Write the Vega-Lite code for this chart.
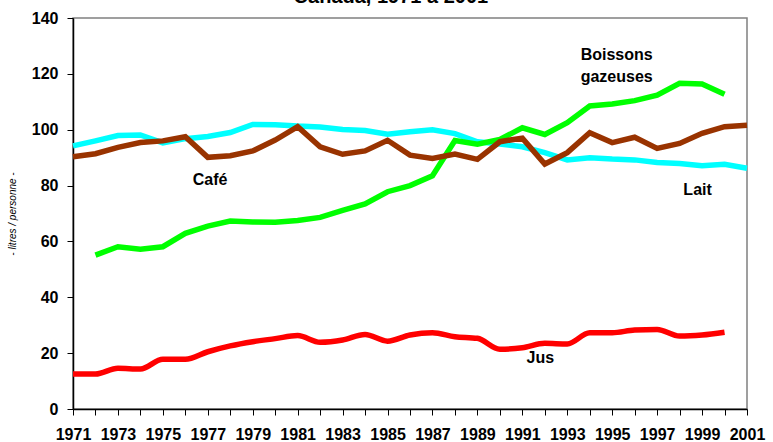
{
  "$schema": "https://vega.github.io/schema/vega-lite/v6.json",
  "width": 674,
  "height": 391,
  "autosize": "none",
  "padding": {"left": 73, "top": 18, "right": 26, "bottom": 33},
  "background": "white",
  "config": {
    "view": {"stroke": "#808080", "strokeWidth": 1.5},
    "font": "Liberation Sans"
  },
  "datasets": {
    "series": [
      {"serie": "Lait", "annee": 1971, "valeur": 94.2},
      {"serie": "Lait", "annee": 1972, "valeur": 96.0},
      {"serie": "Lait", "annee": 1973, "valeur": 97.9},
      {"serie": "Lait", "annee": 1974, "valeur": 98.1},
      {"serie": "Lait", "annee": 1975, "valeur": 95.3},
      {"serie": "Lait", "annee": 1976, "valeur": 96.8},
      {"serie": "Lait", "annee": 1977, "valeur": 97.6},
      {"serie": "Lait", "annee": 1978, "valeur": 99.0},
      {"serie": "Lait", "annee": 1979, "valeur": 101.9},
      {"serie": "Lait", "annee": 1980, "valeur": 101.8},
      {"serie": "Lait", "annee": 1981, "valeur": 101.3},
      {"serie": "Lait", "annee": 1982, "valeur": 101.0},
      {"serie": "Lait", "annee": 1983, "valeur": 100.1},
      {"serie": "Lait", "annee": 1984, "valeur": 99.7},
      {"serie": "Lait", "annee": 1985, "valeur": 98.4},
      {"serie": "Lait", "annee": 1986, "valeur": 99.3},
      {"serie": "Lait", "annee": 1987, "valeur": 100.0},
      {"serie": "Lait", "annee": 1988, "valeur": 98.6},
      {"serie": "Lait", "annee": 1989, "valeur": 95.7},
      {"serie": "Lait", "annee": 1990, "valeur": 94.9},
      {"serie": "Lait", "annee": 1991, "valeur": 93.9},
      {"serie": "Lait", "annee": 1992, "valeur": 91.8},
      {"serie": "Lait", "annee": 1993, "valeur": 89.2},
      {"serie": "Lait", "annee": 1994, "valeur": 90.0},
      {"serie": "Lait", "annee": 1995, "valeur": 89.5},
      {"serie": "Lait", "annee": 1996, "valeur": 89.2},
      {"serie": "Lait", "annee": 1997, "valeur": 88.3},
      {"serie": "Lait", "annee": 1998, "valeur": 87.9},
      {"serie": "Lait", "annee": 1999, "valeur": 87.1},
      {"serie": "Lait", "annee": 2000, "valeur": 87.6},
      {"serie": "Lait", "annee": 2001, "valeur": 86.2},
      {"serie": "Boissons gazeuses", "annee": 1972, "valeur": 55.1},
      {"serie": "Boissons gazeuses", "annee": 1973, "valeur": 58.1},
      {"serie": "Boissons gazeuses", "annee": 1974, "valeur": 57.2},
      {"serie": "Boissons gazeuses", "annee": 1975, "valeur": 58.1},
      {"serie": "Boissons gazeuses", "annee": 1976, "valeur": 62.9},
      {"serie": "Boissons gazeuses", "annee": 1977, "valeur": 65.5},
      {"serie": "Boissons gazeuses", "annee": 1978, "valeur": 67.3},
      {"serie": "Boissons gazeuses", "annee": 1979, "valeur": 67.0},
      {"serie": "Boissons gazeuses", "annee": 1980, "valeur": 66.9},
      {"serie": "Boissons gazeuses", "annee": 1981, "valeur": 67.5},
      {"serie": "Boissons gazeuses", "annee": 1982, "valeur": 68.6},
      {"serie": "Boissons gazeuses", "annee": 1983, "valeur": 71.1},
      {"serie": "Boissons gazeuses", "annee": 1984, "valeur": 73.4},
      {"serie": "Boissons gazeuses", "annee": 1985, "valeur": 77.8},
      {"serie": "Boissons gazeuses", "annee": 1986, "valeur": 80.0},
      {"serie": "Boissons gazeuses", "annee": 1987, "valeur": 83.5},
      {"serie": "Boissons gazeuses", "annee": 1988, "valeur": 96.1},
      {"serie": "Boissons gazeuses", "annee": 1989, "valeur": 94.8},
      {"serie": "Boissons gazeuses", "annee": 1990, "valeur": 96.5},
      {"serie": "Boissons gazeuses", "annee": 1991, "valeur": 100.7},
      {"serie": "Boissons gazeuses", "annee": 1992, "valeur": 98.3},
      {"serie": "Boissons gazeuses", "annee": 1993, "valeur": 102.5},
      {"serie": "Boissons gazeuses", "annee": 1994, "valeur": 108.5},
      {"serie": "Boissons gazeuses", "annee": 1995, "valeur": 109.2},
      {"serie": "Boissons gazeuses", "annee": 1996, "valeur": 110.4},
      {"serie": "Boissons gazeuses", "annee": 1997, "valeur": 112.4},
      {"serie": "Boissons gazeuses", "annee": 1998, "valeur": 116.6},
      {"serie": "Boissons gazeuses", "annee": 1999, "valeur": 116.4},
      {"serie": "Boissons gazeuses", "annee": 2000, "valeur": 112.7},
      {"serie": "Café", "annee": 1971, "valeur": 90.3},
      {"serie": "Café", "annee": 1972, "valeur": 91.4},
      {"serie": "Café", "annee": 1973, "valeur": 93.7},
      {"serie": "Café", "annee": 1974, "valeur": 95.4},
      {"serie": "Café", "annee": 1975, "valeur": 96.0},
      {"serie": "Café", "annee": 1976, "valeur": 97.5},
      {"serie": "Café", "annee": 1977, "valeur": 90.1},
      {"serie": "Café", "annee": 1978, "valeur": 90.7},
      {"serie": "Café", "annee": 1979, "valeur": 92.4},
      {"serie": "Café", "annee": 1980, "valeur": 96.3},
      {"serie": "Café", "annee": 1981, "valeur": 101.1},
      {"serie": "Café", "annee": 1982, "valeur": 93.9},
      {"serie": "Café", "annee": 1983, "valeur": 91.2},
      {"serie": "Café", "annee": 1984, "valeur": 92.4},
      {"serie": "Café", "annee": 1985, "valeur": 96.2},
      {"serie": "Café", "annee": 1986, "valeur": 90.9},
      {"serie": "Café", "annee": 1987, "valeur": 89.7},
      {"serie": "Café", "annee": 1988, "valeur": 91.3},
      {"serie": "Café", "annee": 1989, "valeur": 89.4},
      {"serie": "Café", "annee": 1990, "valeur": 95.7},
      {"serie": "Café", "annee": 1991, "valeur": 97.0},
      {"serie": "Café", "annee": 1992, "valeur": 87.7},
      {"serie": "Café", "annee": 1993, "valeur": 91.8},
      {"serie": "Café", "annee": 1994, "valeur": 98.9},
      {"serie": "Café", "annee": 1995, "valeur": 95.4},
      {"serie": "Café", "annee": 1996, "valeur": 97.3},
      {"serie": "Café", "annee": 1997, "valeur": 93.3},
      {"serie": "Café", "annee": 1998, "valeur": 95.1},
      {"serie": "Café", "annee": 1999, "valeur": 98.7},
      {"serie": "Café", "annee": 2000, "valeur": 101.1},
      {"serie": "Café", "annee": 2001, "valeur": 101.6}
    ],
    "jus": [
      {"serie": "Jus", "annee": 1971, "valeur": 12.5},
      {"serie": "Jus", "annee": 1972, "valeur": 12.5},
      {"serie": "Jus", "annee": 1973, "valeur": 14.6},
      {"serie": "Jus", "annee": 1974, "valeur": 14.3},
      {"serie": "Jus", "annee": 1975, "valeur": 17.8},
      {"serie": "Jus", "annee": 1976, "valeur": 17.8},
      {"serie": "Jus", "annee": 1977, "valeur": 20.5},
      {"serie": "Jus", "annee": 1978, "valeur": 22.6},
      {"serie": "Jus", "annee": 1979, "valeur": 24.1},
      {"serie": "Jus", "annee": 1980, "valeur": 25.2},
      {"serie": "Jus", "annee": 1981, "valeur": 26.3},
      {"serie": "Jus", "annee": 1982, "valeur": 23.9},
      {"serie": "Jus", "annee": 1983, "valeur": 24.7},
      {"serie": "Jus", "annee": 1984, "valeur": 26.7},
      {"serie": "Jus", "annee": 1985, "valeur": 24.3},
      {"serie": "Jus", "annee": 1986, "valeur": 26.5},
      {"serie": "Jus", "annee": 1987, "valeur": 27.3},
      {"serie": "Jus", "annee": 1988, "valeur": 25.9},
      {"serie": "Jus", "annee": 1989, "valeur": 25.3},
      {"serie": "Jus", "annee": 1990, "valeur": 21.4},
      {"serie": "Jus", "annee": 1991, "valeur": 21.9},
      {"serie": "Jus", "annee": 1992, "valeur": 23.5},
      {"serie": "Jus", "annee": 1993, "valeur": 23.3},
      {"serie": "Jus", "annee": 1994, "valeur": 27.3},
      {"serie": "Jus", "annee": 1995, "valeur": 27.3},
      {"serie": "Jus", "annee": 1996, "valeur": 28.3},
      {"serie": "Jus", "annee": 1997, "valeur": 28.5},
      {"serie": "Jus", "annee": 1998, "valeur": 26.1},
      {"serie": "Jus", "annee": 1999, "valeur": 26.5},
      {"serie": "Jus", "annee": 2000, "valeur": 27.5}
    ],
    "etiquettes": [
      {"texte": "Café", "annee": 1977.1, "valeur": 82},
      {"texte": "Boissons", "annee": 1995.2, "valeur": 126.6},
      {"texte": "gazeuses", "annee": 1995.2, "valeur": 118.8},
      {"texte": "Lait", "annee": 1998.8, "valeur": 78.4},
      {"texte": "Jus", "annee": 1991.8, "valeur": 18.4}
    ],
    "titre": [
      {"texte": "Canada, 1971 à 2001", "annee": 1985.15, "valeur": 145.3}
    ]
  },
  "encoding": {
    "x": {
      "field": "annee", "type": "quantitative",
      "scale": {"domain": [1971, 2001], "nice": false, "zero": false},
      "axis": {
        "title": null, "grid": false,
        "values": [1971,1972,1973,1974,1975,1976,1977,1978,1979,1980,1981,1982,1983,1984,1985,1986,1987,1988,1989,1990,1991,1992,1993,1994,1995,1996,1997,1998,1999,2000,2001],
        "labelExpr": "datum.value % 2 == 1 ? format(datum.value, 'd') : ''",
        "labelFont": "Liberation Sans", "labelFontSize": 16, "labelFontWeight": "bold", "labelColor": "black",
        "labelPadding": 11, "labelOverlap": false, "labelFlush": false,
        "domainColor": "black", "domainWidth": 1.5, "tickColor": "black", "tickWidth": 1, "tickSize": 6
      }
    },
    "y": {
      "field": "valeur", "type": "quantitative",
      "scale": {"domain": [0, 140], "nice": false},
      "axis": {
        "title": "- litres / personne -", "titleFont": "Liberation Sans", "titleFontSize": 10, "titleFontStyle": "italic", "titleFontWeight": "normal", "titleColor": "black", "titlePadding": 14,
        "grid": false, "values": [0, 20, 40, 60, 80, 100, 120, 140],
        "labelFont": "Liberation Sans", "labelFontSize": 16, "labelFontWeight": "bold", "labelColor": "black", "labelPadding": 9,
        "domainColor": "black", "domainWidth": 1.5, "tickColor": "black", "tickWidth": 1, "tickSize": 6
      }
    }
  },
  "layer": [
    {
      "data": {"name": "series"},
      "mark": {"type": "line", "strokeWidth": 5.5, "strokeJoin": "miter", "strokeCap": "butt"},
      "encoding": {
        "color": {"field": "serie", "type": "nominal", "legend": null,
          "scale": {"domain": ["Lait", "Boissons gazeuses", "Café", "Jus"], "range": ["#00FFFF", "#00FF00", "#993300", "#FF0000"]}}
      }
    },
    {
      "data": {"name": "jus"},
      "mark": {"type": "line", "strokeWidth": 5.5, "interpolate": "monotone", "color": "#FF0000"},
      "encoding": {}
    },
    {
      "data": {"name": "etiquettes"},
      "mark": {"type": "text", "font": "Liberation Sans", "fontSize": 16, "fontWeight": "bold", "color": "black", "align": "center", "baseline": "middle"},
      "encoding": {"text": {"field": "texte"}}
    },
    {
      "data": {"name": "titre"},
      "mark": {"type": "text", "font": "Liberation Sans", "fontSize": 20, "fontWeight": "bold", "color": "black", "align": "center", "baseline": "alphabetic", "clip": false},
      "encoding": {"text": {"field": "texte"}}
    }
  ]
}
